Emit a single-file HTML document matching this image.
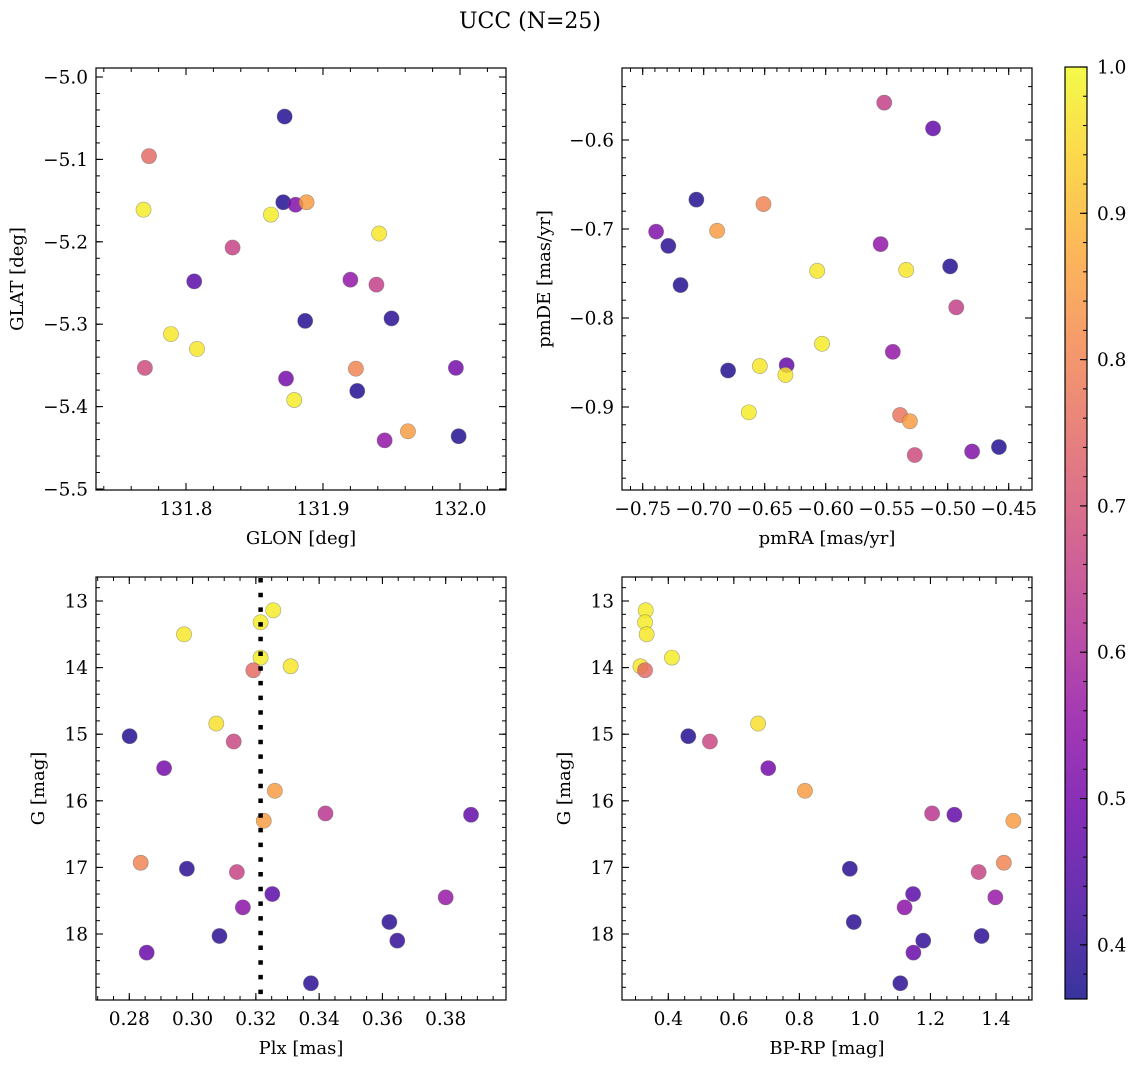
<!DOCTYPE html>
<html><head><meta charset="utf-8"><style>
html,body{margin:0;padding:0;background:#fff;}
svg{display:block;font-family:"DejaVu Serif","Liberation Serif",serif;}
</style></head><body>
<svg id="fig" width="1136" height="1067" viewBox="0 0 1136 1067" xmlns="http://www.w3.org/2000/svg">
<defs>
<linearGradient id="plasmaGrad" x1="0" y1="1" x2="0" y2="0">
<stop offset="0" stop-color="#0d0887"/><stop offset="0.1" stop-color="#41049d"/><stop offset="0.2" stop-color="#6a00a8"/><stop offset="0.3" stop-color="#8f0da4"/><stop offset="0.4" stop-color="#b12a90"/><stop offset="0.5" stop-color="#cc4778"/><stop offset="0.6" stop-color="#e16462"/><stop offset="0.7" stop-color="#f2844b"/><stop offset="0.8" stop-color="#fca636"/><stop offset="0.9" stop-color="#fcce25"/><stop offset="1" stop-color="#f0f921"/>
</linearGradient>
</defs>
<text x="530" y="28" font-size="22" text-anchor="middle">UCC (N=25)</text>
<g id="root"></g>
</svg>
<script>
// Panel 1: GLON / GLAT
const glon = [131.872,131.773,131.769,131.871,131.880,131.888,131.862,131.941,131.834,131.806,131.920,131.939,131.887,131.950,131.789,131.808,131.770,131.924,131.997,131.873,131.925,131.879,131.962,131.945,131.999];
const glat = [-5.048,-5.096,-5.161,-5.152,-5.155,-5.152,-5.167,-5.190,-5.207,-5.248,-5.246,-5.252,-5.296,-5.293,-5.312,-5.330,-5.353,-5.354,-5.353,-5.366,-5.381,-5.392,-5.430,-5.441,-5.436];
const probA = [0.38,0.75,0.98,0.38,0.52,0.85,0.98,0.97,0.66,0.46,0.55,0.65,0.38,0.39,0.97,0.97,0.68,0.80,0.50,0.50,0.38,0.98,0.85,0.55,0.38];
// Panel 2: pmRA / pmDE
const pmra = [-0.552,-0.512,-0.706,-0.651,-0.739,-0.689,-0.729,-0.555,-0.607,-0.534,-0.498,-0.719,-0.493,-0.603,-0.545,-0.680,-0.654,-0.632,-0.633,-0.663,-0.539,-0.531,-0.527,-0.480,-0.458];
const pmde = [-0.558,-0.587,-0.667,-0.672,-0.703,-0.702,-0.719,-0.717,-0.747,-0.746,-0.742,-0.763,-0.788,-0.829,-0.838,-0.859,-0.854,-0.853,-0.864,-0.906,-0.909,-0.916,-0.954,-0.950,-0.945];
const probB = [0.65,0.47,0.38,0.80,0.52,0.85,0.39,0.55,0.97,0.97,0.38,0.38,0.65,0.98,0.55,0.38,0.97,0.47,0.97,0.98,0.77,0.85,0.68,0.52,0.38];
// Panels 3 & 4: Plx, G, BP-RP
const plx  = [0.3255,0.3215,0.2973,0.3215,0.331,0.3192,0.3075,0.2801,0.313,0.291,0.326,0.342,0.388,0.3225,0.2836,0.2982,0.314,0.3252,0.380,0.3159,0.3622,0.3085,0.3647,0.2855,0.3374];
const gmag = [13.14,13.32,13.50,13.85,13.98,14.04,14.84,15.03,15.11,15.51,15.85,16.19,16.21,16.30,16.93,17.02,17.07,17.40,17.45,17.60,17.82,18.03,18.10,18.28,18.74];
const bprp = [0.331,0.329,0.334,0.411,0.315,0.329,0.674,0.461,0.527,0.705,0.817,1.205,1.273,1.453,1.424,0.954,1.347,1.147,1.398,1.121,0.966,1.356,1.178,1.148,1.108];
const probC = [0.98,0.98,0.97,0.98,0.97,0.75,0.96,0.38,0.67,0.50,0.85,0.63,0.47,0.85,0.80,0.39,0.66,0.46,0.56,0.54,0.39,0.39,0.40,0.48,0.39];
const plxMedian = 0.3215;
const xTicks1 = [131.8,131.9,132.0];
const yTicks1 = [-5.0,-5.1,-5.2,-5.3,-5.4,-5.5];
const xTicks2 = [-0.75,-0.70,-0.65,-0.60,-0.55,-0.50,-0.45];
const yTicks2 = [-0.6,-0.7,-0.8,-0.9];
const xTicks3 = [0.28,0.30,0.32,0.34,0.36,0.38];
const yTicksG = [13,14,15,16,17,18];
const xTicks4 = [0.4,0.6,0.8,1.0,1.2,1.4];
const cbTicks = [0.4,0.5,0.6,0.7,0.8,0.9,1.0];
const vmin = 0.363, vmax = 1.0;

const NS = "http://www.w3.org/2000/svg";
const root = document.getElementById('root');
const TFS = 18.5, LFS = 18;
function mk(tag, attrs, parent){const e=document.createElementNS(NS,tag);for(const k in attrs)e.setAttribute(k,attrs[k]);(parent||root).appendChild(e);return e;}
const stops=[[13,8,135],[65,4,157],[106,0,168],[143,13,164],[177,42,144],[204,71,120],[225,100,98],[242,132,75],[252,166,54],[252,206,37],[240,249,33]];
function plasma(v){let t=(v-vmin)/(vmax-vmin);t=Math.max(0,Math.min(1,t))*10;const i=Math.min(9,Math.floor(t));const f=t-i;const a=stops[i],b=stops[i+1];return 'rgb('+[0,1,2].map(k=>Math.round(a[k]+(b[k]-a[k])*f)).join(',')+')';}
function lin(d0,p0,d1,p1){return v=>p0+(v-d0)*(p1-p0)/(d1-d0);}
function fmt(v,dec){return (v<0?'\u2212':'')+Math.abs(v).toFixed(dec);}

function panel(o){
  const g=mk('g',{});
  
  
  const X=lin(o.xd[0],o.xp[0],o.xd[1],o.xp[1]), Y=lin(o.yd[0],o.yp[0],o.yd[1],o.yp[1]);
  const L=o.box[0],R=o.box[1],T=o.box[2],B=o.box[3];
  const xa=o.xd[0]+(L-o.xp[0])*(o.xd[1]-o.xd[0])/(o.xp[1]-o.xp[0]);
  const xb=o.xd[0]+(R-o.xp[0])*(o.xd[1]-o.xd[0])/(o.xp[1]-o.xp[0]);
  for(let k=Math.ceil(Math.min(xa,xb)/o.xminor-1e-6);k*o.xminor<=Math.max(xa,xb)+1e-9;k++){const px=X(k*o.xminor);if(px<L+1||px>R-1)continue;
    mk('line',{x1:px,x2:px,y1:B,y2:B-4,stroke:'#000','stroke-width':1},g);mk('line',{x1:px,x2:px,y1:T,y2:T+4,stroke:'#000','stroke-width':1},g);}
  const ya=o.yd[0]+(T-o.yp[0])*(o.yd[1]-o.yd[0])/(o.yp[1]-o.yp[0]);
  const yb=o.yd[0]+(B-o.yp[0])*(o.yd[1]-o.yd[0])/(o.yp[1]-o.yp[0]);
  for(let k=Math.ceil(Math.min(ya,yb)/o.yminor-1e-6);k*o.yminor<=Math.max(ya,yb)+1e-9;k++){const py=Y(k*o.yminor);if(py<T+1||py>B-1)continue;
    mk('line',{x1:L,x2:L+4,y1:py,y2:py,stroke:'#000','stroke-width':1},g);mk('line',{x1:R,x2:R-4,y1:py,y2:py,stroke:'#000','stroke-width':1},g);}
  o.xt.forEach(v=>{const px=X(v);
    mk('line',{x1:px,x2:px,y1:B,y2:B-7,stroke:'#000','stroke-width':1.1},g);mk('line',{x1:px,x2:px,y1:T,y2:T+7,stroke:'#000','stroke-width':1.1},g);
    const t=mk('text',{x:px,y:B+25,'font-size':TFS,'text-anchor':'middle'},g);t.textContent=fmt(v,o.xdec);
    
    });
  o.yt.forEach(v=>{const py=Y(v);
    mk('line',{x1:L,x2:L+7,y1:py,y2:py,stroke:'#000','stroke-width':1.1},g);mk('line',{x1:R,x2:R-7,y1:py,y2:py,stroke:'#000','stroke-width':1.1},g);
    const t=mk('text',{x:L-8,y:py+6.5,'font-size':TFS,'text-anchor':'end'},g);t.textContent=fmt(v,o.ydec);
    
    });
  o.xs.forEach((xv,i)=>{const c=mk('circle',{cx:X(xv),cy:Y(o.ys[i]),r:7.6,fill:plasma(o.cs[i]),'fill-opacity':0.82,stroke:'#6a6a6a','stroke-opacity':0.6,'stroke-width':0.6},g);
    
    });
  if(o.vline!==undefined){const px=X(o.vline);const l=mk('line',{x1:px,x2:px,y1:T+1,y2:B,stroke:'#000','stroke-width':4.5,'stroke-dasharray':'4.5 10.2'},g);
    
    }
  const f=mk('rect',{x:L,y:T,width:R-L,height:B-T,fill:'none',stroke:'#000','stroke-width':1.2},g);
  
  
  const xl=mk('text',{x:(L+R)/2,y:B+54,'font-size':LFS,'text-anchor':'middle'},g);xl.textContent=o.xlabel;
  
  
  const yl=mk('text',{x:0,y:0,'font-size':LFS,'text-anchor':'middle',transform:'translate('+o.ylx+','+((T+B)/2)+') rotate(-90)'},g);yl.textContent=o.ylabel;
  
  
}
panel({name:'glon-glat-panel',box:[96,506,68,490],xd:[131.8,132.0],xp:[186,460],yd:[-5.0,-5.5],yp:[77,489],xt:xTicks1,yt:yTicks1,xminor:0.02,yminor:0.02,xdec:1,ydec:1,xs:glon,ys:glat,cs:probA,xlabel:'GLON [deg]',ylabel:'GLAT [deg]',ylx:23});
panel({name:'pm-panel',box:[622,1032,68,490],xd:[-0.75,-0.45],xp:[642.7,1008.7],yd:[-0.6,-0.9],yp:[140,407],xt:xTicks2,yt:yTicks2,xminor:0.01,yminor:0.02,xdec:2,ydec:1,xs:pmra,ys:pmde,cs:probB,xlabel:'pmRA [mas/yr]',ylabel:'pmDE [mas/yr]',ylx:550});
panel({name:'plx-g-panel',box:[96,506,577,1000],xd:[0.28,0.38],xp:[129.3,445.7],yd:[13,18],yp:[601,934],xt:xTicks3,yt:yTicksG,xminor:0.005,yminor:0.2,xdec:2,ydec:0,xs:plx,ys:gmag,cs:probC,xlabel:'Plx [mas]',ylabel:'G [mag]',ylx:44,vline:plxMedian});
panel({name:'cmd-panel',box:[622,1032,577,1000],xd:[0.4,1.4],xp:[668.3,996],yd:[13,18],yp:[601,934],xt:xTicks4,yt:yTicksG,xminor:0.05,yminor:0.2,xdec:1,ydec:0,xs:bprp,ys:gmag,cs:probC,xlabel:'BP-RP [mag]',ylabel:'G [mag]',ylx:570});

// colorbar
const cb=mk('g',{});


const cbT=67,cbB=999,cbL=1065,cbR=1087;
mk('rect',{x:cbL,y:cbT,width:cbR-cbL,height:cbB-cbT,fill:'url(#plasmaGrad)','fill-opacity':0.82},cb);
mk('rect',{x:cbL,y:cbT,width:cbR-cbL,height:cbB-cbT,fill:'none',stroke:'#000','stroke-width':1.2},cb);
const CY=lin(vmin,cbB,vmax,cbT);
for(let k=19;k<=50;k++){const v=k*0.02;if(v<vmin||v>vmax+1e-9)continue;const py=CY(v);mk('line',{x1:cbR,x2:cbR-4,y1:py,y2:py,stroke:'#000','stroke-width':1},cb);}
cbTicks.forEach(v=>{const py=CY(v);mk('line',{x1:cbR,x2:cbR-7,y1:py,y2:py,stroke:'#000','stroke-width':1.1},cb);
  const t=mk('text',{x:1097,y:py+6.5,'font-size':TFS},cb);t.textContent=v.toFixed(1);
  
  });
</script>
</body></html>
